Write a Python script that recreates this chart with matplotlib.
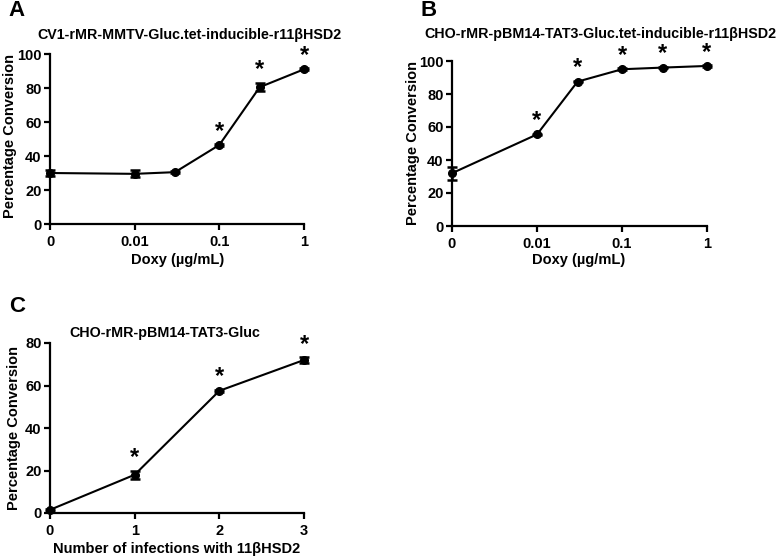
import matplotlib
matplotlib.use("Agg")
import matplotlib.pyplot as plt
import numpy as np

plt.rcParams['font.family'] = ['Liberation Sans', 'DejaVu Sans']
plt.rcParams['font.weight'] = 'bold'

# Panel A
doxy_a = [0, 0.01, 0.03, 0.1, 0.3, 1]
conv_a = [30, 29.5, 30.5, 46.5, 80.5, 91]
err_a = [2, 2, 0.5, 0.5, 2.5, 0.5]
star_a = [False, False, False, True, True, True]

# Panel B
doxy_b = [0, 0.01, 0.03, 0.1, 0.3, 1]
conv_b = [32, 55.5, 87.5, 95, 96, 97]
err_b = [4, 0.5, 0.5, 0.5, 0.5, 0.5]
star_b = [False, True, True, True, True, True]

# Panel C
infections = [0, 1, 2, 3]
conv_c = [1.5, 18, 57.5, 72]
err_c = [0.5, 2, 0.5, 1.2]
star_c = [False, True, True, True]

doxy_ticks = [0.001, 0.01, 0.1, 1]
doxy_labels = ["0", "0.01", "0.1", "1"]

W, H = 782, 560
fig = plt.figure(figsize=(W / 100, H / 100), dpi=100)

FS = 10.3
LS = 10.5


def px_axes(l, r, t, b):
    return fig.add_axes([l / W, 1 - b / H, (r - l) / W, (b - t) / H])


def style(ax):
    for s in ['top', 'right']:
        ax.spines[s].set_visible(False)
    for s in ['left', 'bottom']:
        ax.spines[s].set_linewidth(1.6)
    ax.tick_params(direction='out', length=4, width=1.6, labelsize=10.5, pad=2)
    ax.tick_params(axis='x', pad=4)
    ax.minorticks_off()
    for lab in ax.get_xticklabels() + ax.get_yticklabels():
        lab.set_fontweight('bold')


def draw(ax, x, y, e, stars):
    ax.errorbar(x, y, yerr=e, fmt='-o', color='black', lw=1.5, ms=5.5,
                elinewidth=1.8, capsize=3.5, capthick=1.8, clip_on=False, zorder=3)
    for xi, yi, ei, s in zip(x, y, e, stars):
        if s:
            ax.annotate('*', (xi, yi + ei), xytext=(0, 1), textcoords='offset points',
                        ha='center', va='bottom', fontsize=17, fontweight='bold',
                        annotation_clip=False)


# A
axA = px_axes(50, 304, 54, 224)
xa = [d if d > 0 else 0.001 for d in doxy_a]
draw(axA, xa, conv_a, err_a, star_a)
axA.set_xscale('log')
axA.set_xlim(0.001, 1)
axA.set_ylim(0, 100)
axA.set_xticks(doxy_ticks)
axA.set_xticklabels(doxy_labels)
axA.set_yticks([0, 20, 40, 60, 80, 100])
style(axA)
fig.text(189 / W, 1 - 35 / H, "CV1-rMR-MMTV-Gluc.tet-inducible-r11βHSD2",
         ha='center', va='center', fontsize=FS, fontweight='bold')
fig.text(178 / W, 1 - 260 / H, "Doxy (µg/mL)", ha='center', va='center',
         fontsize=LS, fontweight='bold')
fig.text(10 / W, 1 - 136 / H, "Percentage Conversion", ha='center', va='center',
         rotation=90, fontsize=LS, fontweight='bold')
fig.text(8 / W, 1 - 11 / H, "A", ha='left', va='center', fontsize=16, fontweight='bold')

# B
axB = px_axes(452, 707, 61, 226)
xb = [d if d > 0 else 0.001 for d in doxy_b]
draw(axB, xb, conv_b, err_b, star_b)
axB.set_xscale('log')
axB.set_xlim(0.001, 1)
axB.set_ylim(0, 100)
axB.set_xticks(doxy_ticks)
axB.set_xticklabels(doxy_labels)
axB.set_yticks([0, 20, 40, 60, 80, 100])
style(axB)
fig.text(600 / W, 1 - 34 / H, "CHO-rMR-pBM14-TAT3-Gluc.tet-inducible-r11βHSD2",
         ha='center', va='center', fontsize=FS, fontweight='bold')
fig.text(579 / W, 1 - 260 / H, "Doxy (µg/mL)", ha='center', va='center',
         fontsize=LS, fontweight='bold')
fig.text(413 / W, 1 - 143 / H, "Percentage Conversion", ha='center', va='center',
         rotation=90, fontsize=LS, fontweight='bold')
fig.text(421 / W, 1 - 11 / H, "B", ha='left', va='center', fontsize=16, fontweight='bold')

# C
axC = px_axes(50, 304, 343, 513)
draw(axC, infections, conv_c, err_c, star_c)
axC.set_xlim(0, 3)
axC.set_ylim(0, 80)
axC.set_xticks(infections)
axC.set_yticks([0, 20, 40, 60, 80])
style(axC)
fig.text(165 / W, 1 - 333 / H, "CHO-rMR-pBM14-TAT3-Gluc",
         ha='center', va='center', fontsize=FS, fontweight='bold')
fig.text(177 / W, 1 - 549 / H, "Number of infections with 11βHSD2", ha='center',
         va='center', fontsize=LS, fontweight='bold')
fig.text(14 / W, 1 - 428 / H, "Percentage Conversion", ha='center', va='center',
         rotation=90, fontsize=LS, fontweight='bold')
fig.text(9 / W, 1 - 307 / H, "C", ha='left', va='center', fontsize=16, fontweight='bold')

fig.savefig("out.png", dpi=100)
